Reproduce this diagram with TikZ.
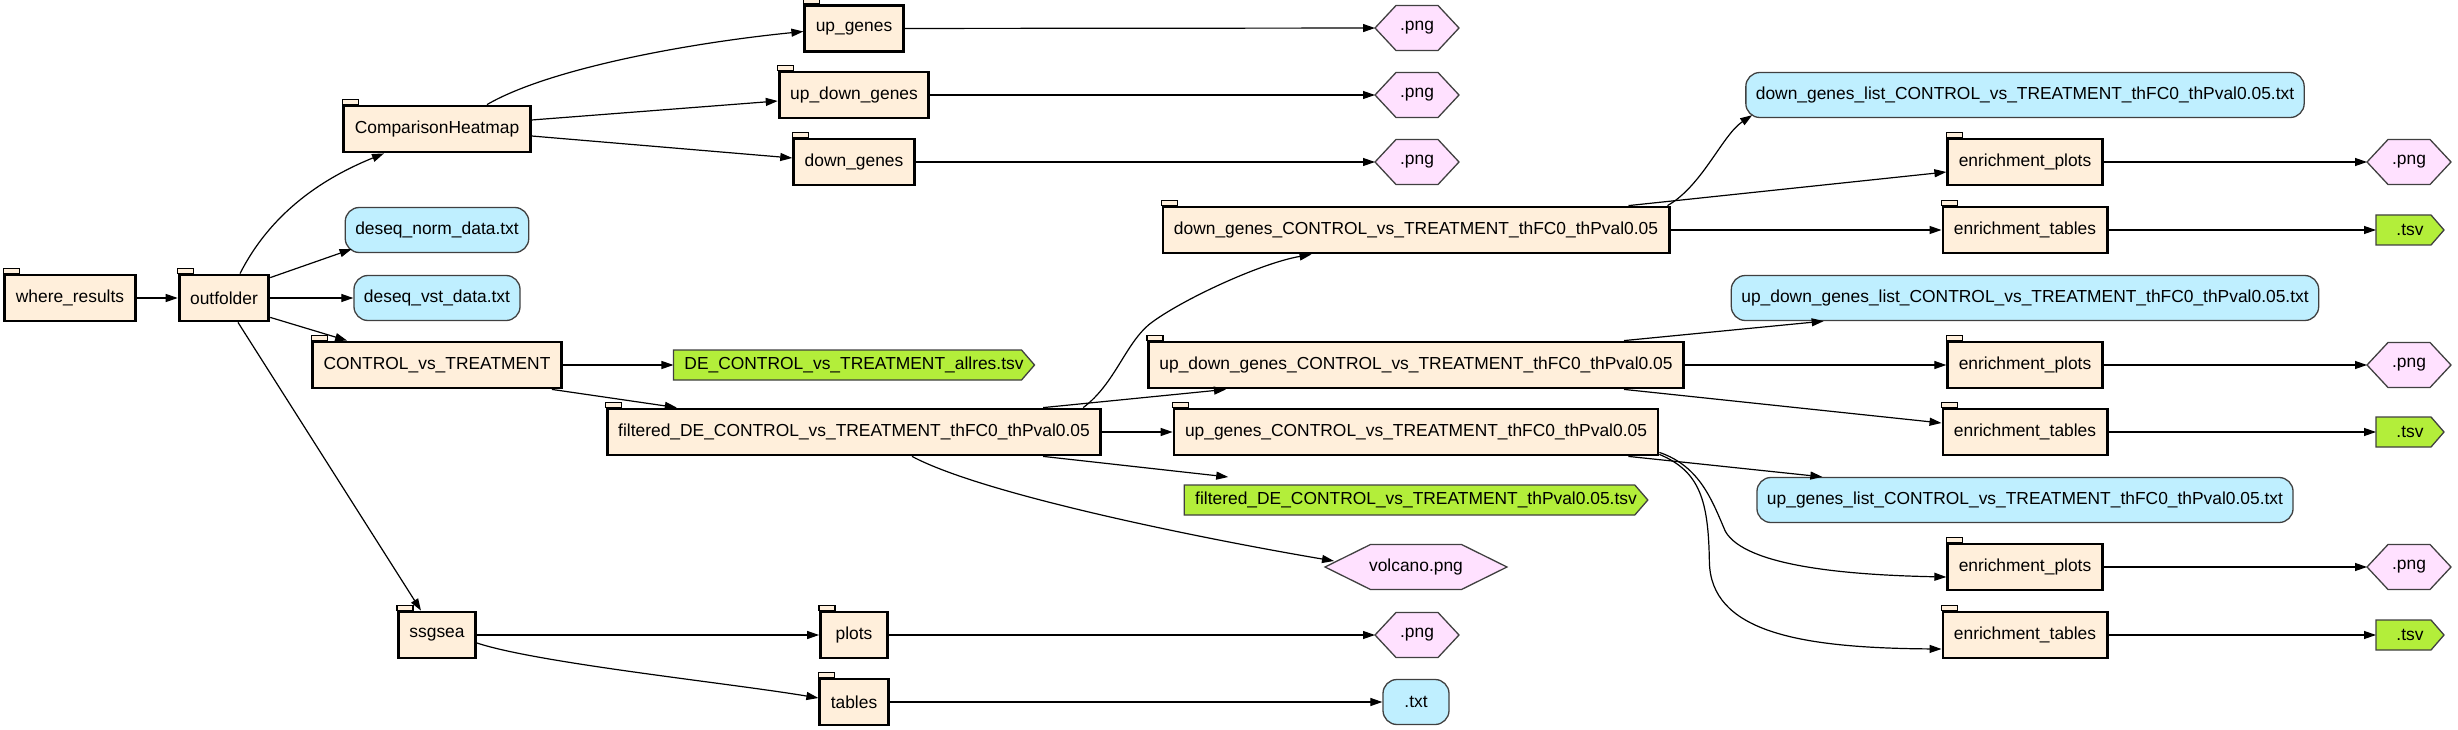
\documentclass[tikz,border=0pt]{standalone}
\usepackage{fontspec}
\setmainfont{Liberation Sans}
\usetikzlibrary{arrows.meta,calc,backgrounds}

\definecolor{dircol}{HTML}{FFEFDB}
\definecolor{txtcol}{HTML}{BFEFFF}
\definecolor{pngcol}{HTML}{FFE1FF}
\definecolor{tsvcol}{HTML}{B3EE3A}
\definecolor{rimcol}{HTML}{404040}

\tikzset{
  folder/.style={draw, line width=2.8pt, fill=dircol, minimum width=67pt, minimum height=46pt, inner xsep=11pt, inner ysep=0pt,
    append after command={\pgfextra{\draw[line width=1.3pt, fill=dircol] (\tikzlastnode.north west) rectangle ++(16pt,5pt);}}},
  txtfile/.style={draw=rimcol, line width=1.3pt, fill=txtcol, rounded corners=14pt, minimum width=66pt, minimum height=45pt, inner xsep=10pt, inner ysep=0pt},
  pngfile/.style={minimum width=84pt, minimum height=45pt, inner sep=0pt, outer sep=0pt,
    append after command={\pgfextra{\begin{pgfonlayer}{background}
      \filldraw[draw=rimcol, line width=1.3pt, fill=pngcol] (\tikzlastnode.west)
        -- ($(\tikzlastnode.north west)!.25!(\tikzlastnode.north east)$)
        -- ($(\tikzlastnode.north west)!.75!(\tikzlastnode.north east)$)
        -- (\tikzlastnode.east)
        -- ($(\tikzlastnode.south west)!.75!(\tikzlastnode.south east)$)
        -- ($(\tikzlastnode.south west)!.25!(\tikzlastnode.south east)$) -- cycle;
    \end{pgfonlayer}}}},
  tsvfile/.style={minimum width=68pt, minimum height=30pt, inner xsep=11pt, inner ysep=0pt, outer sep=0pt,
    append after command={\pgfextra{\begin{pgfonlayer}{background}
      \filldraw[draw=rimcol, line width=1.3pt, fill=tsvcol] (\tikzlastnode.north west)
        -- ([xshift=-13pt]\tikzlastnode.north east) -- (\tikzlastnode.east)
        -- ([xshift=-13pt]\tikzlastnode.south east) -- (\tikzlastnode.south west) -- cycle;
    \end{pgfonlayer}}}},
  wire/.style={line width=1.2pt, -{Triangle[length=12pt,width=8pt]}}
}

\begin{document}
\begin{tikzpicture}[x=1pt, y=-1pt, every node/.style={font=\fontsize{17.4pt}{20pt}\selectfont}]
  \path[use as bounding box] (0,0) rectangle (2458,730);

  \node[folder] (where) at (70,298) {where\_results};
  \node[folder] (outfolder) at (224,298) {outfolder};
  \node[folder] (heatmap) at (437,129) {ComparisonHeatmap};
  \node[txtfile] (norm) at (437,230) {deseq\_norm\_data.txt};
  \node[txtfile] (vst) at (437,298) {deseq\_vst\_data.txt};
  \node[folder] (contrast) at (437,365) {CONTROL\_vs\_TREATMENT};
  \node[folder] (ssgsea) at (437,635) {ssgsea};

  \node[folder] (upg) at (854,28.5) {up\_genes};
  \node[folder] (updowng) at (854,95) {up\_down\_genes};
  \node[folder] (downg) at (854,162) {down\_genes};
  \node[tsvfile] (allres) at (854,365) {DE\_CONTROL\_vs\_TREATMENT\_allres.tsv};
  \node[folder] (filtered) at (854,432) {filtered\_DE\_CONTROL\_vs\_TREATMENT\_thFC0\_thPval0.05};
  \node[folder] (plots) at (854,635) {plots};
  \node[folder] (tables) at (854,702) {tables};

  \node[pngfile] (upgpng) at (1417,28) {.png};
  \node[pngfile] (updowngpng) at (1417,95) {.png};
  \node[pngfile] (downgpng) at (1417,162) {.png};
  \node[folder] (downdir) at (1416,230) {down\_genes\_CONTROL\_vs\_TREATMENT\_thFC0\_thPval0.05};
  \node[folder] (updowndir) at (1416,365) {up\_down\_genes\_CONTROL\_vs\_TREATMENT\_thFC0\_thPval0.05};
  \node[folder] (updir) at (1416,432) {up\_genes\_CONTROL\_vs\_TREATMENT\_thFC0\_thPval0.05};
  \node[tsvfile] (thpval) at (1416,500) {filtered\_DE\_CONTROL\_vs\_TREATMENT\_thPval0.05.tsv};
  \node[pngfile, minimum width=182pt] (volcano) at (1416,567) {volcano.png};
  \node[pngfile] (plotspng) at (1417,635) {.png};
  \node[txtfile] (tablestxt) at (1416,702) {.txt};

  \node[txtfile] (downlist) at (2025,95) {down\_genes\_list\_CONTROL\_vs\_TREATMENT\_thFC0\_thPval0.05.txt};
  \node[folder] (eplotsA) at (2025,162) {enrichment\_plots};
  \node[folder] (etabA) at (2025,230) {enrichment\_tables};
  \node[txtfile] (updownlist) at (2025,298) {up\_down\_genes\_list\_CONTROL\_vs\_TREATMENT\_thFC0\_thPval0.05.txt};
  \node[folder] (eplotsB) at (2025,365) {enrichment\_plots};
  \node[folder] (etabB) at (2025,432) {enrichment\_tables};
  \node[txtfile] (uplist) at (2025,500) {up\_genes\_list\_CONTROL\_vs\_TREATMENT\_thFC0\_thPval0.05.txt};
  \node[folder] (eplotsC) at (2025,567) {enrichment\_plots};
  \node[folder] (etabC) at (2025,635) {enrichment\_tables};

  \node[pngfile] (pngA) at (2409,162) {.png};
  \node[tsvfile] (tsvA) at (2410,230) {.tsv};
  \node[pngfile] (pngB) at (2409,365) {.png};
  \node[tsvfile] (tsvB) at (2410,432) {.tsv};
  \node[pngfile] (pngC) at (2409,567) {.png};
  \node[tsvfile] (tsvC) at (2410,635) {.tsv};

  \draw[wire] (where) -- (outfolder);
  \draw[wire] ($(outfolder.north)+(16,0)$) .. controls +(35,-69) and +(-49,20) .. ($(heatmap.south)+(-53,0)$);
  \draw[wire] ($(outfolder.north east)+(0,4)$) -- ($(norm.south west)+(7,-4)$);
  \draw[wire] (outfolder) -- (vst);
  \draw[wire] ($(outfolder.south east)+(0,-5)$) -- ($(contrast.north west)+(36,0)$);
  \draw[wire] ($(outfolder.south)+(14,0)$) -- ($(ssgsea.north)+(-16,0)$);

  \draw[wire] ($(heatmap.north)+(50,0)$) .. controls +(60,-35) and +(-120,12) .. ($(upg.west)+(0,3)$);
  \draw[wire] ($(heatmap.east)+(0,-9)$) -- ($(updowng.west)+(0,6)$);
  \draw[wire] ($(heatmap.east)+(0,7)$) -- ($(downg.west)+(0,-4)$);
  \draw[wire] (upg) -- (upgpng);
  \draw[wire] (updowng) -- (updowngpng);
  \draw[wire] (downg) -- (downgpng);

  \draw[wire] (contrast) -- (allres);
  \draw[wire] ($(contrast.south east)+(-11,0)$) -- ($(filtered.north west)+(71,0)$);
  \draw[wire] ($(filtered.north east)+(-19,0)$) .. controls +(32,-24) and +(-25,20) .. ++(67,-84) .. controls +(30,-23) and +(-52,9) .. ($(downdir.south west)+(150,0)$);
  \draw[wire] ($(filtered.north east)+(-59,0)$) -- ($(updowndir.south west)+(79,0)$);
  \draw[wire] (filtered) -- (updir);
  \draw[wire] ($(filtered.south east)+(-59,0)$) -- ($(thpval.north west)+(44,-8)$);
  \draw[wire] ($(filtered.south)+(58,0)$) .. controls +(73,39) and +(-124,-21) .. ($(volcano.west)+(9,-6)$);

  \draw[wire] ($(downdir.north east)+(-3,0)$) .. controls +(35,-20) and +(-30,20) .. ($(downlist.south west)+(7,-3)$);
  \draw[wire] ($(downdir.north east)+(-42,0)$) -- ($(eplotsA.west)+(0,10)$);
  \draw[wire] (downdir) -- (etabA);
  \draw[wire] (eplotsA) -- (pngA);
  \draw[wire] (etabA) -- (tsvA);

  \draw[wire] ($(updowndir.north east)+(-61,0)$) -- ($(updownlist.south west)+(93,0)$);
  \draw[wire] (updowndir) -- (eplotsB);
  \draw[wire] ($(updowndir.south east)+(-61,0)$) -- ($(etabB.west)+(0,-9)$);
  \draw[wire] (eplotsB) -- (pngB);
  \draw[wire] (etabB) -- (tsvB);

  \draw[wire] ($(updir.south east)+(-31,0)$) -- ($(uplist.north west)+(66,0)$);
  \draw[wire] ($(updir.south east)+(0,-4)$) .. controls +(41,14) and +(-13,-30) .. ++(66,79) .. controls +(20,35) and +(-99,-2) .. ($(eplotsC.west)+(0,10)$);
  \draw[wire] ($(updir.south east)+(0,-2)$) .. controls +(41,17) and +(-1,-60) .. ++(50,107) .. controls +(1,70) and +(-144,-1) .. ($(etabC.west)+(0,14)$);
  \draw[wire] (eplotsC) -- (pngC);
  \draw[wire] (etabC) -- (tsvC);

  \draw[wire] (ssgsea) -- (plots);
  \draw[wire] ($(ssgsea.east)+(0,8)$) .. controls +(60,20) and +(-90,-15) .. ($(tables.west)+(0,-4)$);
  \draw[wire] (plots) -- (plotspng);
  \draw[wire] (tables) -- (tablestxt);
\end{tikzpicture}
\end{document}
